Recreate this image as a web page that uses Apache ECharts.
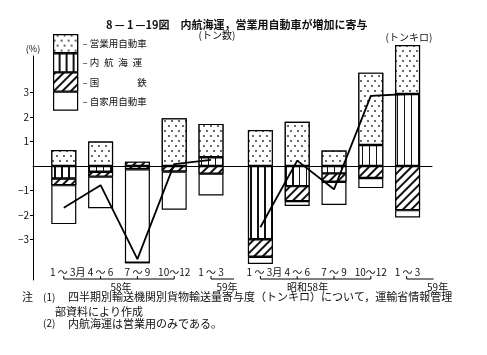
<!DOCTYPE html>
<html><head><meta charset="utf-8">
<script src="https://cdn.jsdelivr.net/npm/echarts@6/dist/echarts.min.js"></script>
<style>html,body{margin:0;padding:0;background:#fff}#c{width:487px;height:355px}</style>
</head><body><div id="c"></div>
<script>
// ---- data ----
const quarters = ['1 ～ 3月', '4 ～ 6', '7 ～ 9', '10～12', '1 ～ 3'];
const yTickValues = [-3, -2, -1, 1, 2, 3];
const legendNames = ['営業用自動車', '内航海運', '国鉄', '自家用自動車'];
const legendLabels = ['営業用自動車', '内\u2002航\u2002海\u2002運', '国\u3000\u3000\u3000\u3000鉄', '自家用自動車'];
// トン数 (left panel)
const tonsNaikou = [-0.51, -0.23, 0, 0, 0.36];
const tonsKokutetsu = [-0.27, -0.20, 0.18, -0.22, -0.31];
const tonsKokutetsuBelowZero = [null, null, -0.13, null, null];
const tonsJikayou = [-1.59, -1.29, -3.81, -1.56, -0.89];
const tonsEigyou = [0.65, 1.00, 0, 1.95, 1.36];
const tonsTotal = [-1.70, -0.78, -3.80, 0.08, 0.25];
// トンキロ (right panel)
const tkmNaikou = [-2.99, -0.82, -0.30, 0.86, 2.94];
const tkmKokutetsu = [-0.71, -0.61, -0.34, -0.49, -1.80];
const tkmJikayou = [-0.30, -0.20, -0.95, -0.41, -0.30];
const tkmEigyou = [1.47, 1.81, 0.63, 2.95, 2.00];
const tkmTotal = [-2.50, 0.22, -0.95, 2.86, 2.94];

// ---- styles ----
const FONT = 'Noto Sans CJK JP';
const decalDots = {symbol: 'circle', symbolSize: 0.9, color: '#222', backgroundColor: '#fff',
  dashArrayX: [[1.2, 4.5], [0, 2.6, 1.2, 1.9]], dashArrayY: [1.2, 2.6]};
const decalVert = {symbol: 'rect', symbolSize: 1, color: '#111', backgroundColor: '#fff',
  dashArrayX: [1, 0], dashArrayY: [1.1, 4.8], rotation: Math.PI / 2};
const decalHatch = {symbol: 'rect', symbolSize: 1, color: '#111', backgroundColor: '#fff',
  dashArrayX: [1, 0], dashArrayY: [1.3, 4.0], rotation: -Math.PI / 4};
const border = {color: '#fff', borderColor: '#000', borderWidth: 1.2};

function barSeries(name, data, axis, decal) {
  return {
    type: 'bar', name: name, data: data, xAxisIndex: axis, yAxisIndex: axis,
    stack: 'S' + axis, barWidth: 25, clip: false,
    itemStyle: Object.assign({}, border, decal ? {decal: decal} : {}),
    emphasis: {disabled: true}
  };
}
function lineSeries(data, axis) {
  return {type: 'line', data: data, xAxisIndex: axis, yAxisIndex: axis, symbol: 'none', z: 5,
    lineStyle: {color: '#000', width: 1.8}, emphasis: {disabled: true}};
}
function catAxis(gi) {
  return {
    type: 'category', gridIndex: gi, data: quarters, offset: -14,
    axisLine: {show: false, onZero: false}, axisTick: {show: false},
    axisLabel: {
      interval: 0, margin: 1, fontSize: 10, color: '#111', fontFamily: FONT,
      formatter: (v, i) => i === 0 ? '{m|' + v + '}' : v,
      rich: {m: {fontSize: 10, color: '#111', fontFamily: FONT, padding: [0, 0, 0, 8]}}
    }
  };
}

const option = {
  animation: false,
  title: {text: '8\u2009—\u20091\u2009—19図\u3000内航海運，営業用自動車が増加に寄与', left: 101, top: 14,
    textStyle: {fontSize: 11, fontWeight: 'bold', color: '#111', fontFamily: FONT}},
  legend: {
    orient: 'vertical', left: 53, top: 34, itemWidth: 24, itemHeight: 18, itemGap: 0, padding: 0,
    data: legendNames, icon: 'rect', selectedMode: false,
    itemStyle: {borderColor: '#000', borderWidth: 1.2},
    formatter: n => '– ' + legendLabels[legendNames.indexOf(n)],
    textStyle: {fontSize: 9.5, color: '#111', fontFamily: FONT}
  },
  grid: [
    {left: 45.4, width: 184, top: 56, bottom: 75},
    {left: 242, width: 184, top: 40, bottom: 75},
    {left: 33, right: 55, top: 56, bottom: 75}
  ],
  xAxis: [
    catAxis(0), catAxis(1),
    {type: 'value', gridIndex: 2, min: 0, max: 1, z: 10,
      axisLine: {show: true, onZero: true, lineStyle: {color: '#000', width: 1}},
      axisTick: {show: false}, axisLabel: {show: false}, splitLine: {show: false}}
  ],
  yAxis: [
    {type: 'value', gridIndex: 0, min: -4.65, max: 4.49, offset: 12.4,
      name: '(%)', nameLocation: 'end', nameGap: 3,
      nameTextStyle: {fontSize: 9, color: '#111', fontFamily: FONT, align: 'center'},
      axisLine: {show: true, lineStyle: {color: '#000', width: 1}},
      axisTick: {show: true, length: 3, customValues: yTickValues, lineStyle: {color: '#000'}},
      axisLabel: {customValues: yTickValues, margin: 4, fontSize: 10, color: '#111', fontFamily: FONT,
        formatter: v => String(v).replace('-', '−')},
      splitLine: {show: false}},
    {type: 'value', gridIndex: 1, min: -4.65, max: 5.143, show: false},
    {type: 'value', gridIndex: 2, min: -4.65, max: 4.49, show: false}
  ],
  series: [
    barSeries('内航海運', tonsNaikou, 0, decalVert),
    barSeries('国鉄', tonsKokutetsu, 0, decalHatch),
    barSeries('国鉄（負）', tonsKokutetsuBelowZero, 0, decalHatch),
    barSeries('自家用自動車', tonsJikayou, 0, null),
    barSeries('営業用自動車', tonsEigyou, 0, decalDots),
    lineSeries(tonsTotal, 0),
    barSeries('内航海運', tkmNaikou, 1, decalVert),
    barSeries('国鉄', tkmKokutetsu, 1, decalHatch),
    barSeries('自家用自動車', tkmJikayou, 1, null),
    barSeries('営業用自動車', tkmEigyou, 1, decalDots),
    lineSeries(tkmTotal, 1)
  ]
};

const chart = echarts.init(document.getElementById('c'));
chart.setOption(option);

// ---- annotations: year brackets, panel captions, notes ----
const px = (ai, i) => chart.convertToPixel({xAxisIndex: ai}, i);
const BY = 279;
const g = [];
function seg(x1, y1, x2, y2) {
  g.push({type: 'line', shape: {x1: x1, y1: y1, x2: x2, y2: y2}, style: {stroke: '#000', lineWidth: 1}, silent: true});
}
function txt(x, y, s, size, align) {
  g.push({type: 'text', x: x, y: y, silent: true,
    style: {text: s, fill: '#111', fontSize: size, fontFamily: FONT, align: align || 'left', verticalAlign: 'middle'}});
}
function bracket(ai, from, to, label, dx) {
  const xs = [];
  for (let i = from; i <= to; i++) xs.push(px(ai, i));
  seg(xs[0], BY, xs[xs.length - 1], BY);
  xs.forEach(x => seg(x, BY, x, BY - 3));
  txt((xs[0] + xs[xs.length - 1]) / 2 + dx, BY + 8.5, label, 10, 'center');
}
bracket(0, 0, 3, '58年', 2);
bracket(1, 0, 3, '昭和58年', -8);
const l5 = px(0, 4), r5 = px(1, 4);
seg(l5, BY, l5 + 23, BY); seg(l5, BY, l5, BY - 3);
txt(l5 + 16, BY + 8.5, '59年', 10, 'center');
seg(r5 - 1, BY, r5 + 26, BY); seg(r5 - 1, BY, r5 - 1, BY - 3);
txt(r5 + 30, BY + 8.5, '59年', 10, 'center');

txt(217, 35, '(トン数)', 10, 'center');
txt(409, 37, '(トンキロ)', 10, 'center');

txt(22, 297, '注', 11);
txt(43, 297, '(1)', 10);
txt(68, 297, '四半期別輸送機関別貨物輸送量寄与度（トンキロ）について，運輸省情報管理', 11);
txt(55, 311.5, '部資料により作成', 11);
txt(43, 323.5, '(2)', 10);
txt(68, 323.5, '内航海運は営業用のみである。', 11);

chart.setOption({graphic: g});
</script>
</body></html>
